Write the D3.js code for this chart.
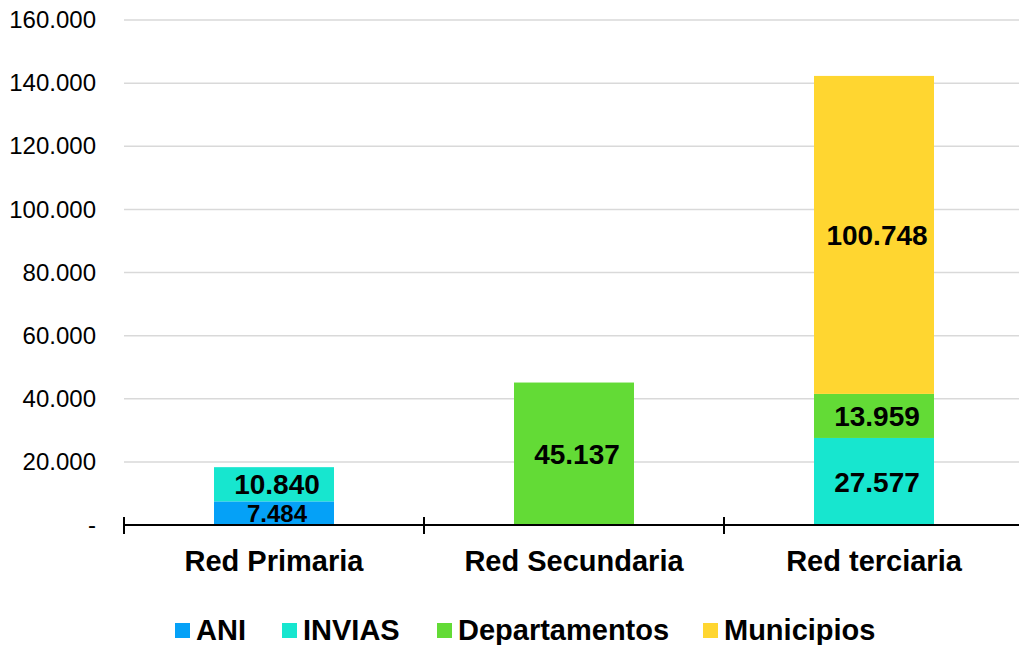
<!DOCTYPE html>
<html><head><meta charset="utf-8">
<script src="https://cdn.jsdelivr.net/npm/d3@7"></script>
<style>body{margin:0;background:#fff}svg{display:block;font-family:"Liberation Sans",Arial,sans-serif}</style>
</head><body><svg id="c" width="1019" height="645"></svg>
<script>
const categories = ["Red Primaria", "Red Secundaria", "Red terciaria"];
const seriesNames = ["ANI", "INVIAS", "Departamentos", "Municipios"];
const ANI = [7484, 0, 0];
const INVIAS = [10840, 0, 27577];
const Departamentos = [0, 45137, 13959];
const Municipios = [0, 0, 100748];
const colors = ["#05A1F7", "#17E6CF", "#63DB36", "#FFD630"];
const yTicks = [0, 20000, 40000, 60000, 80000, 100000, 120000, 140000, 160000];

const seriesValues = [ANI, INVIAS, Departamentos, Municipios];
const rows = categories.map((c, i) => {
  const r = {cat: c};
  seriesNames.forEach((s, j) => r[s] = seriesValues[j][i]);
  return r;
});
const svg = d3.select("#c");
const pL = 124, pR = 1024, pT = 20, pB = 525;
const y = d3.scaleLinear().domain([0, 160000]).range([pB, pT]);
const x = d3.scaleBand().domain(categories).range([pL, pR]).paddingInner(0.6).paddingOuter(0.3);
const xc = d3.scaleBand().domain(categories).range([pL, pR]).padding(0);
const fmt = v => v === 0 ? "-" : d3.format(",")(v).replace(/,/g, ".");

// gridlines
svg.append("g").selectAll("line").data(yTicks.filter(t => t > 0)).join("line")
  .attr("x1", pL).attr("x2", pR).attr("y1", d => y(d)).attr("y2", d => y(d))
  .attr("stroke", "#d9d9d9").attr("stroke-width", 1.5);

// y axis labels
const ya = svg.append("g").attr("transform", `translate(${pL},0)`)
  .call(d3.axisLeft(y).tickValues(yTicks).tickFormat(fmt).tickSize(0).tickPadding(28));
ya.select(".domain").remove();
ya.selectAll("text").attr("font-size", 24).attr("fill", "#000").attr("font-family", '"Liberation Sans",Arial,sans-serif');

const stack = d3.stack().keys(seriesNames)(rows);
svg.append("g").selectAll("g").data(stack).join("g").attr("fill", (d, i) => colors[i])
  .selectAll("rect").data(d => d.filter(p => p[1] - p[0] > 0)).join("rect")
  .attr("x", d => x(d.data.cat)).attr("width", x.bandwidth())
  .attr("y", d => y(d[1])).attr("height", d => y(d[0]) - y(d[1]));

// value labels
const lab = [];
stack.forEach(s => s.forEach(p => { const v = p[1] - p[0]; if (v > 0) lab.push({cat: p.data.cat, v, y0: p[0], y1: p[1], key: s.key}); }));
svg.append("g").selectAll("text").data(lab).join("text")
  .attr("x", d => x(d.cat) + x.bandwidth() / 2 + 3)
  .attr("y", d => (y(d.y0) + y(d.y1)) / 2)
  .attr("dy", "0.36em").attr("text-anchor", "middle")
  .attr("font-weight", "bold").attr("font-size", d => d.v < 9000 ? 24 : 28)
  .text(d => fmt(d.v));

// x axis
const xa = svg.append("g").attr("transform", `translate(0,${pB})`);
xa.append("line").attr("x1", pL).attr("x2", pR).attr("stroke", "#000").attr("stroke-width", 2);
xa.selectAll("line.t").data(categories.concat(["end"])).join("line").attr("class", "t")
  .attr("x1", (d, i) => pL + i * xc.step()).attr("x2", (d, i) => pL + i * xc.step())
  .attr("y1", -8).attr("y2", 9).attr("stroke", "#000").attr("stroke-width", 2);
xa.selectAll("text").data(categories).join("text")
  .attr("x", d => xc(d) + xc.bandwidth() / 2).attr("y", 46)
  .attr("text-anchor", "middle").attr("font-weight", "bold").attr("font-size", 29).text(d => d);

// legend
const legX = [175, 282, 437, 703];
const lg = svg.append("g").selectAll("g").data(seriesNames).join("g")
  .attr("transform", (d, i) => `translate(${legX[i]},623)`);
lg.append("rect").attr("width", 15).attr("height", 15).attr("fill", (d, i) => colors[i]);
lg.append("text").attr("x", 21).attr("y", 17).attr("font-weight", "bold").attr("font-size", 29).text(d => d);
</script></body></html>
